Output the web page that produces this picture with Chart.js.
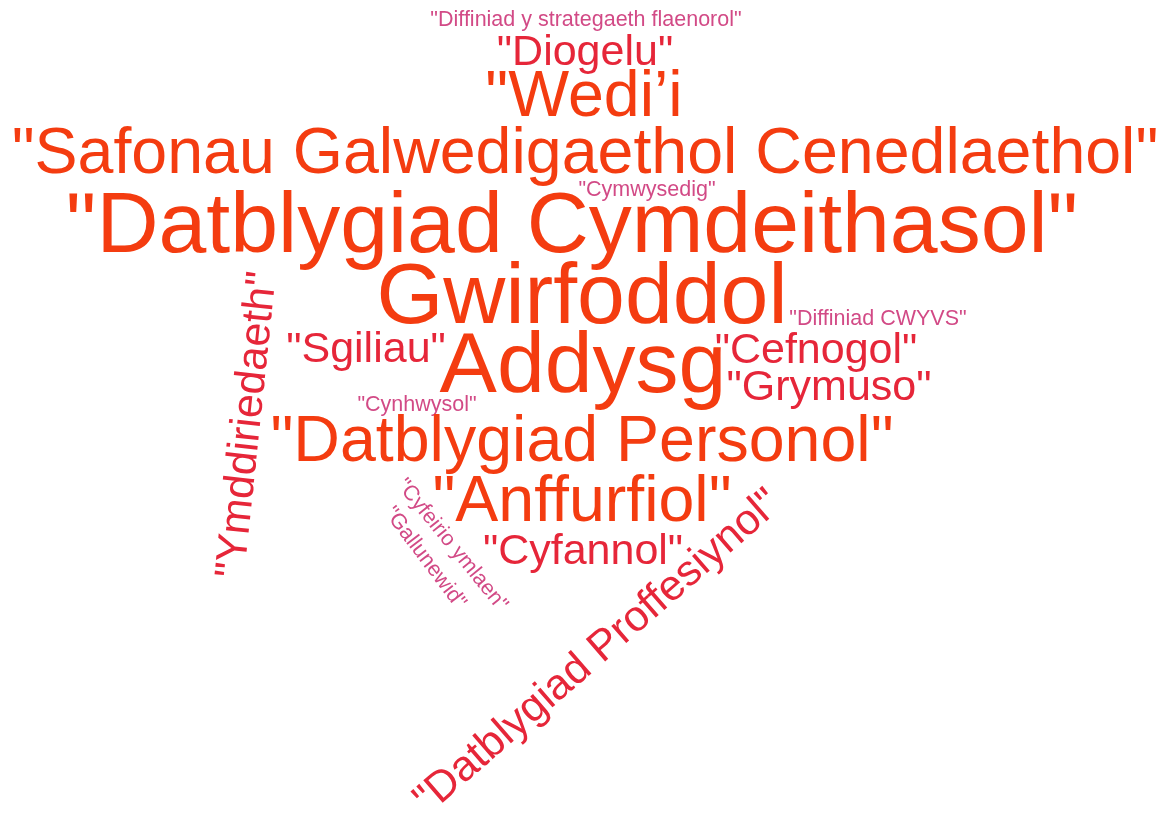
<!DOCTYPE html>
<html>
<head>
<meta charset="utf-8">
<script src="https://cdn.jsdelivr.net/npm/chart.js@4.4.1/dist/chart.umd.min.js"></script>
<style>
  html, body { margin: 0; padding: 0; background: #ffffff; }
  #wrap { width: 1170px; height: 813px; }
</style>
</head>
<body>
<div id="wrap"><canvas id="c" width="1170" height="813"></canvas></div>
<script>
// ---- data: words and their weights (frequency) ----
const words = [
  '"Diffiniad y strategaeth flaenorol"',
  '"Diogelu"',
  '"Wedi\u2019i',
  '"Safonau Galwedigaethol Cenedlaethol"',
  '"Datblygiad Cymdeithasol"',
  '"Cymwysedig"',
  'Gwirfoddol',
  '"Diffiniad CWYVS"',
  '"Sgiliau"',
  'Addysg',
  '"Cefnogol"',
  '"Grymuso"',
  '"Cynhwysol"',
  '"Datblygiad Personol"',
  '"Ymddiriedaeth"',
  '"Anffurfiol"',
  '"Cyfannol"',
  '"Cyfeirio ymlaen"',
  '"Gallunewid"',
  '"Datblygiad Proffesiynol"'
];
const weights = [1, 2, 3, 3, 4, 1, 4, 1, 2, 4, 2, 2, 1, 3, 2, 3, 2, 1, 1, 2];

// ---- layout of the cloud (placement only) ----
const posX  = [586, 585, 584, 585, 572, 647, 582, 878, 366, 583, 816, 829, 417, 582, 248, 582, 583, 452, 425, 598];
const posY  = [20, 53, 98, 155, 228, 190, 299, 319, 350, 368, 351, 388, 405, 443, 425, 503, 552, 545, 558, 652];
const angle = [0, 0, 0, 0, 0, 0, 0, 0, 0, 0, 0, 0, 0, 0, -84, 0, 0, 51, 53, -41];

const pxPerWeight = 21.5;
function colorFor(w) {
  if (w >= 3) return '#f43c10';
  if (w === 2) return '#e62639';
  return '#d24a86';
}

const cloudPlugin = {
  id: 'wordcloud',
  afterDatasetsDraw(chart) {
    const ctx = chart.ctx;
    const meta = chart.getDatasetMeta(0);
    meta.data.forEach((el, i) => {
      const w = weights[i];
      ctx.save();
      ctx.translate(el.x, el.y);
      ctx.rotate(angle[i] * Math.PI / 180);
      ctx.font = (w * pxPerWeight).toFixed(1) + 'px "Liberation Sans", Arial, sans-serif';
      ctx.fillStyle = colorFor(w);
      ctx.textAlign = 'center';
      ctx.textBaseline = 'middle';
      ctx.fillText(words[i], 0, 0);
      ctx.restore();
    });
  }
};

new Chart(document.getElementById('c'), {
  type: 'scatter',
  data: {
    labels: words,
    datasets: [{
      data: words.map((_, i) => ({ x: posX[i], y: posY[i] })),
      pointRadius: 0,
      pointHoverRadius: 0
    }]
  },
  options: {
    responsive: false,
    animation: false,
    layout: { padding: 0 },
    plugins: { legend: { display: false }, tooltip: { enabled: false } },
    scales: {
      x: { type: 'linear', min: 0, max: 1170, display: false },
      y: { type: 'linear', min: 0, max: 813, reverse: true, display: false }
    }
  },
  plugins: [cloudPlugin]
});
</script>
</body>
</html>
